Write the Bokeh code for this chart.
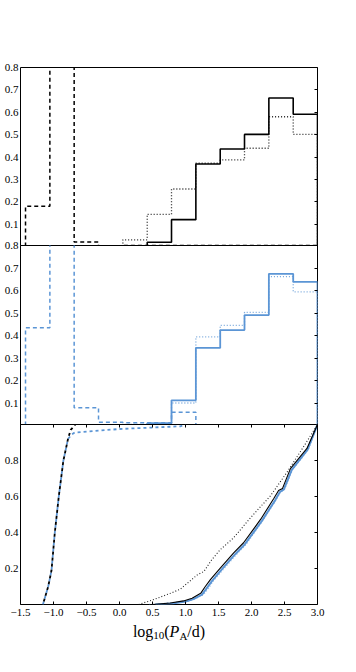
from bokeh.plotting import figure
from bokeh.models import Range1d, FixedTicker, LinearAxis
from bokeh.core.properties import value
from bokeh.layouts import column
from bokeh.embed import file_html
from bokeh.resources import INLINE

# ---------------- data ----------------
bin_edges = [-1.424, -1.055, -0.687, -0.318, 0.051, 0.420, 0.788,
             1.157, 1.526, 1.894, 2.263, 2.632, 3.000]

# top panel (black) histograms, density
top_dashed = [0.18, 2.5, 0.02, 0.0, 0.004, 0.004, 0.004, 0.004, 0.004, 0.004, 0.004, 0.004]
top_solid = [0.003, 0.019, 0.12, 0.369, 0.436, 0.501, 0.664, 0.591]
top_dotted = [0.03, 0.144, 0.257, 0.372, 0.387, 0.439, 0.580, 0.501]

# middle panel (blue) histograms, density
mid_dashed = [0.434, 2.1, 0.079, 0.015, 0.012, 0.012, 0.059, 0.0, 0.0, 0.0, 0.0, 0.0]
mid_solid = [0.003, 0.01, 0.112, 0.345, 0.424, 0.491, 0.674, 0.638]
mid_dotted = [0.005, 0.008, 0.10, 0.394, 0.445, 0.503, 0.662, 0.594]

# bottom panel cumulative distributions
cdf_black_dashed_x = [-1.16, -1.08, -1.03, -0.98, -0.92, -0.85, -0.78, -0.74, -0.69, -0.67]
cdf_black_dashed_y = [0.0, 0.10, 0.19, 0.40, 0.60, 0.80, 0.92, 0.97, 0.99, 1.0]
cdf_blue_dashed_x = [-1.16, -1.08, -1.03, -0.98, -0.92, -0.85, -0.78, -0.72, -0.68, 0.0, 0.92, 1.0]
cdf_blue_dashed_y = [0.0, 0.10, 0.19, 0.40, 0.60, 0.80, 0.92, 0.945, 0.955, 0.975, 0.99, 1.0]
cdf_black_dotted_x = [0.29, 0.50, 0.77, 0.92, 1.18, 1.28, 1.40, 1.53, 1.73, 1.99, 2.29, 2.54, 2.79, 3.0]
cdf_black_dotted_y = [0.0, 0.025, 0.062, 0.085, 0.165, 0.184, 0.25, 0.306, 0.371, 0.484, 0.605, 0.736, 0.877, 1.0]
cdf_black_solid_x = [0.50, 0.77, 0.97, 1.10, 1.23, 1.30, 1.38, 1.53, 1.73, 1.88, 2.14, 2.34, 2.41, 2.47, 2.59, 2.84, 3.0]
cdf_black_solid_y = [0.0, 0.008, 0.02, 0.035, 0.062, 0.10, 0.14, 0.203, 0.287, 0.343, 0.474, 0.59, 0.633, 0.645, 0.755, 0.867, 1.0]
cdf_blue_solid_x = [0.55, 0.80, 1.00, 1.12, 1.25, 1.32, 1.40, 1.55, 1.75, 1.90, 2.16, 2.36, 2.43, 2.49, 2.61, 2.85, 3.0]
cdf_blue_solid_y = [0.0, 0.006, 0.016, 0.03, 0.055, 0.09, 0.13, 0.195, 0.278, 0.335, 0.466, 0.58, 0.625, 0.64, 0.748, 0.86, 1.0]
cdf_blue_dotted_x = [0.45, 0.75, 1.05, 1.15, 1.27, 1.35, 1.42, 1.57, 1.77, 1.92, 2.17, 2.37, 2.44, 2.50, 2.62, 2.86, 3.0]
cdf_blue_dotted_y = [0.0, 0.008, 0.02, 0.033, 0.055, 0.09, 0.13, 0.195, 0.278, 0.335, 0.466, 0.58, 0.625, 0.64, 0.748, 0.86, 1.0]

x_ticks = [-1.5, -1.0, -0.5, 0.0, 0.5, 1.0, 1.5, 2.0, 2.5, 3.0]
x_tick_labels = ["\u22121.5", "\u22121.0", "\u22120.5", "0.0", "0.5", "1.0", "1.5", "2.0", "2.5", "3.0"]
hist_y_ticks = [0.1, 0.2, 0.3, 0.4, 0.5, 0.6, 0.7, 0.8]
hist_y_labels = ["0.1", "0.2", "0.3", "0.4", "0.5", "0.6", "0.7", "0.8"]
cdf_y_ticks = [0.2, 0.4, 0.6, 0.8]
cdf_y_labels = ["0.2", "0.4", "0.6", "0.8"]

# ---------------- styling ----------------
FONT = "Liberation Serif"
BLUE = "#5b95d5"
FRAME_W = 297
BORDER_L = 20
BORDER_R = 10


def step_outline(edges, heights):
    xs = [edges[0]]
    ys = [0.0]
    for i, h in enumerate(heights):
        xs += [edges[i], edges[i + 1]]
        ys += [h, h]
    xs.append(edges[len(heights)])
    ys.append(0.0)
    return xs, ys


def tick_only_axis(ticks):
    return LinearAxis(ticker=FixedTicker(ticks=ticks, minor_ticks=[]),
                      major_label_overrides={t: "" for t in ticks},
                      axis_line_color=None, major_tick_line_color="black",
                      minor_tick_line_color=None, major_tick_in=3, major_tick_out=0,
                      major_label_standoff=0, major_label_text_font_size="1px")


def make_fig(ymax, ticks, labels, frame_h, b_top, b_bottom, m_top):
    p = figure(frame_width=FRAME_W, frame_height=frame_h,
               x_range=Range1d(-1.5, 3.0), y_range=Range1d(0, ymax),
               output_backend="svg", toolbar_location=None,
               x_axis_location=None, y_axis_location=None,
               min_border_left=BORDER_L, min_border_right=BORDER_R,
               min_border_top=b_top, min_border_bottom=b_bottom)
    p.margin = (m_top, 0, 0, 0)
    p.grid.visible = False
    p.outline_line_color = "black"
    p.outline_line_width = 1
    p.border_fill_color = None
    p.background_fill_color = None
    left = LinearAxis(ticker=FixedTicker(ticks=ticks, minor_ticks=[]),
                      major_label_overrides={t: l for t, l in zip(ticks, labels)},
                      axis_line_color=None, major_tick_line_color=None,
                      minor_tick_line_color=None, major_tick_in=0, major_tick_out=0,
                      major_label_standoff=2, major_label_text_font=FONT,
                      major_label_text_font_size="11px", major_label_text_color="black")
    p.add_layout(left, "left")
    p.add_layout(tick_only_axis(ticks), "right")
    return p


# ---------------- top panel ----------------
p1 = make_fig(0.8, hist_y_ticks, hist_y_labels, 179, 67, 0, 0)
p1.border_fill_color = "white"
xs, ys = step_outline(bin_edges, top_dashed)
p1.line(xs, ys, line_color="black", line_width=1.5, line_dash="4 3")
xs, ys = step_outline(bin_edges[4:], top_dotted)
p1.line(xs, ys, line_color="#222222", line_width=1.3, line_dash="1 2")
xs, ys = step_outline(bin_edges[4:], top_solid)
p1.line(xs, ys, line_color="black", line_width=1.6)

# ---------------- middle panel ----------------
p2 = make_fig(0.8, hist_y_ticks, hist_y_labels, 180, 8, 0, -9)
xs, ys = step_outline(bin_edges, mid_dashed)
p2.line(xs, ys, line_color=BLUE, line_width=1.5, line_dash="4 3")
xs, ys = step_outline(bin_edges[4:], mid_dotted)
p2.line(xs, ys, line_color=BLUE, line_width=1.3, line_dash="1 2", line_alpha=0.85)
xs, ys = step_outline(bin_edges[4:], mid_solid)
p2.line(xs, ys, line_color=BLUE, line_width=1.8)

# ---------------- bottom panel ----------------
p3 = make_fig(1.0, cdf_y_ticks, cdf_y_labels, 180, 8, 16, -9)
bottom = LinearAxis(ticker=FixedTicker(ticks=x_ticks, minor_ticks=[]),
                    major_label_overrides={t: l for t, l in zip(x_ticks, x_tick_labels)},
                    axis_line_color=None, major_tick_line_color="black",
                    minor_tick_line_color=None, major_tick_in=3, major_tick_out=0,
                    major_label_standoff=4, major_label_text_font=FONT,
                    major_label_text_font_size="11px", major_label_text_color="black")
p3.add_layout(bottom, "below")
p3.add_layout(tick_only_axis(x_ticks), "above")

p3.line(cdf_blue_dashed_x, cdf_blue_dashed_y, line_color=BLUE, line_width=1.8, line_dash="3 3")
p3.line(cdf_blue_dotted_x, cdf_blue_dotted_y, line_color=BLUE, line_width=1.3, line_dash="1 2", line_alpha=0.7)
p3.line(cdf_blue_solid_x, cdf_blue_solid_y, line_color=BLUE, line_width=2.0)
p3.line(cdf_black_dotted_x, cdf_black_dotted_y, line_color="#222222", line_width=1.1, line_dash="1 2")
p3.line(cdf_black_solid_x, cdf_black_solid_y, line_color="black", line_width=1.1)
p3.line(cdf_black_dashed_x, cdf_black_dashed_y, line_color="black", line_width=1.8,
        line_dash="3 3", line_dash_offset=3)

# ---------------- x-axis label: log10(P_A/d) ----------------
LABEL_H = 28
p4 = figure(frame_width=FRAME_W, frame_height=LABEL_H,
            x_range=Range1d(0, FRAME_W), y_range=Range1d(0, LABEL_H),
            output_backend="svg", toolbar_location=None,
            x_axis_location=None, y_axis_location=None,
            min_border_left=BORDER_L, min_border_right=BORDER_R,
            min_border_top=0, min_border_bottom=0)
p4.grid.visible = False
p4.outline_line_color = None
p4.border_fill_color = None
p4.background_fill_color = None

# pieces: text, size, style, baseline shift, advance width
label_parts = [("log", "16px", "normal", 0, 20.4),
               ("10", "11px", "normal", -4, 11.0),
               ("(", "16px", "normal", 0, 5.3),
               ("P", "16px", "italic", 0, 9.8),
               ("A", "11px", "normal", -4, 7.9),
               ("/d)", "16px", "normal", 0, 17.8)]
total_w = sum(part[4] for part in label_parts)
cur_x = FRAME_W / 2 - total_w / 2
BASE_Y = LABEL_H - 11
for txt, size, style, dy, w in label_parts:
    p4.text(x=[cur_x], y=[BASE_Y + dy], text=[txt], text_font=value(FONT),
            text_font_size=size, text_font_style=style,
            text_baseline="alphabetic", text_align="left", text_color="black")
    cur_x += w

layout = column(p1, p2, p3, p4, spacing=0)
open("out.html", "w").write(file_html(layout, INLINE))
